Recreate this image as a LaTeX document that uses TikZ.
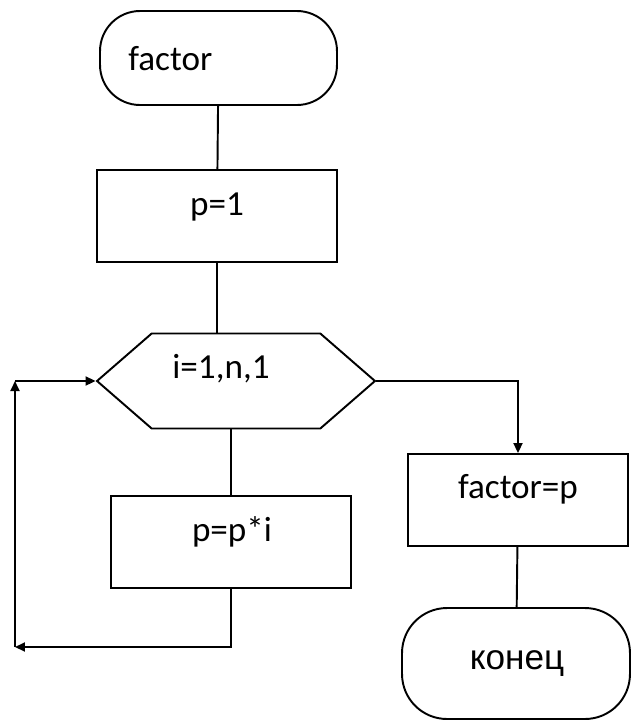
\documentclass[tikz,border=0pt]{standalone}
\usepackage{fontspec}
\setmainfont{Carlito}
\newfontfamily\arialfont{Liberation Sans}
\usetikzlibrary{calc,arrows.meta,shapes.symbols}

\tikzset{
  terminal/.style={draw, line width=1.1pt, rounded corners=0.8cm, minimum width=4.74cm, minimum height=1.88cm},
  process/.style={draw, line width=1.1pt, minimum width=4.8cm, minimum height=1.84cm},
  loophex/.style={draw, line width=1.1pt, signal, signal to=west and east, signal pointer angle=82, minimum width=5.56cm, minimum height=1.9cm},
  txt/.style={anchor=base, inner sep=0pt, font=\fontsize{20}{24}\selectfont},
  flow/.style={line width=1.1pt},
  arr/.style={flow, -{Triangle[length=0.2cm,width=0.18cm]}},
}

\begin{document}
\begin{tikzpicture}[x=0.02cm, y=-0.02cm]
  \useasboundingbox[fill=white] (0,0) rectangle (633,721);

  % blocks
  \node[terminal] (start) at (218.5,58) {};
  \node[process] (init) at (217,216) {};
  \node[loophex] (loop) at (236,381) {};
  \node[process] (body) at (231,542) {};
  \node[process, minimum width=4.4cm] (exit) at (518,500) {};
  \node[terminal, rounded corners=0.9cm, minimum width=4.56cm, minimum height=2.22cm] (stop) at (516,663.5) {};

  % texts
  \node[txt, anchor=base west] (startt) at (128,70) {factor};
  \node[txt] (initt) at (217,215) {p=1};
  \node[txt] (loopt) at (221,378) {i=1,n,1};
  \node[txt] (bodyt) at (232,541) {p=p*i};
  \node[txt] (exitt) at (518,498) {factor=p};
  \node[txt, font=\arialfont\fontsize{20}{24}\selectfont] (stopt) at (517,669) {конец};

  % links
  \draw[flow] (start) -- (init);
  \draw[flow] (init.south) -- (init.south |- loop.north);
  \draw[flow] (body.north |- loop.south) -- (body.north);
  \coordinate (back) at (15,647);
  \coordinate (up) at (15,381);
  \draw[arr] (body.south) |- (back);
  \draw[arr] (back) -- (up);
  \draw[arr] (up) -- (loop.west);
  \draw[arr] (loop.east) -| (exit.north);
  \draw[flow] (exit) -- (stop);
\end{tikzpicture}
\end{document}
